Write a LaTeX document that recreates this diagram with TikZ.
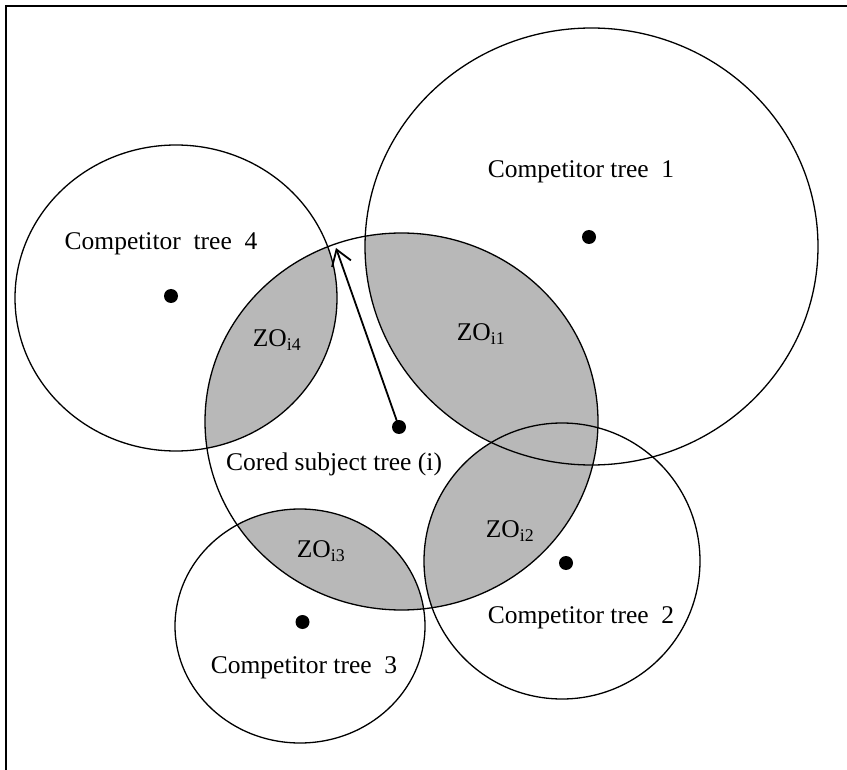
\documentclass[tikz,border=0pt]{standalone}
\usepackage{fontspec}
\setmainfont{Liberation Serif}
\usepackage{tikz}
\usetikzlibrary{arrows.meta,positioning}

\begin{document}
\begin{tikzpicture}[x=1pt, y=-1pt,
  tree/.style={draw, line width=1.3pt},
  zone/.style={fill=black!28},
  dot/.style={circle, fill=black, inner sep=0pt, minimum size=14pt},
  lbl/.style={inner sep=0pt, font=\fontsize{25.5}{30}\selectfont},
  arrow/.style={-{Straight Barb[length=15pt, width=20pt, line width=1.8pt]}, line width=1.8pt}
]
  \useasboundingbox (0,0) rectangle (847,770);
  % frame
  \draw[line width=2.5pt] (6,770) -- (6,6) -- (847,6);
  % centres of the crowns
  \coordinate (ci) at (401.5,421.5);
  \coordinate (c1) at (591.5,246.5);
  \coordinate (c2) at (562,561);
  \coordinate (c3) at (300,626);
  \coordinate (c4) at (176,298);
  % zones of overlap
  \begin{scope}
    \clip (ci) ellipse [x radius=196.5, y radius=188.5];
    \fill[zone] (c1) ellipse [x radius=226.5, y radius=218.5];
    \fill[zone] (c2) ellipse [x radius=138, y radius=138];
    \fill[zone] (c3) ellipse [x radius=125, y radius=117];
    \fill[zone] (c4) ellipse [x radius=161, y radius=153];
  \end{scope}
  % crowns
  \draw[tree] (ci) ellipse [x radius=196.5, y radius=188.5];
  \draw[tree] (c1) ellipse [x radius=226.5, y radius=218.5];
  \draw[tree] (c2) ellipse [x radius=138, y radius=138];
  \draw[tree] (c3) ellipse [x radius=125, y radius=117];
  \draw[tree] (c4) ellipse [x radius=161, y radius=153];
  % stems
  \node[dot] (d0) at (399,427) {};
  \node[dot] (d1) at (589,237) {};
  \node[dot] (d2) at (566,563) {};
  \node[dot] (d3) at (302.5,622) {};
  \node[dot] (d4) at (171,296) {};
  % crown radius
  \coordinate (tip) at (336,248);
  \draw[arrow] (d0.center) -- (tip);
  % labels
  \node[lbl] (l1) at (581,172) {Competitor tree\ \ 1};
  \node[lbl] (l2) at (581,618) {Competitor tree\ \ 2};
  \node[lbl] (l3) at (304,668) {Competitor tree\ \ 3};
  \node[lbl] (l4) at (161,244) {Competitor\ \ tree\ \ 4};
  \node[lbl] (li) at (334,464) {Cored subject tree (i)};
  \node[lbl] (z1) at (481,334) {ZO\textsubscript{i1}};
  \node[lbl] (z2) at (510,531) {ZO\textsubscript{i2}};
  \node[lbl] (z3) at (321,551) {ZO\textsubscript{i3}};
  \node[lbl] (z4) at (277,340) {ZO\textsubscript{i4}};
\end{tikzpicture}
\end{document}
